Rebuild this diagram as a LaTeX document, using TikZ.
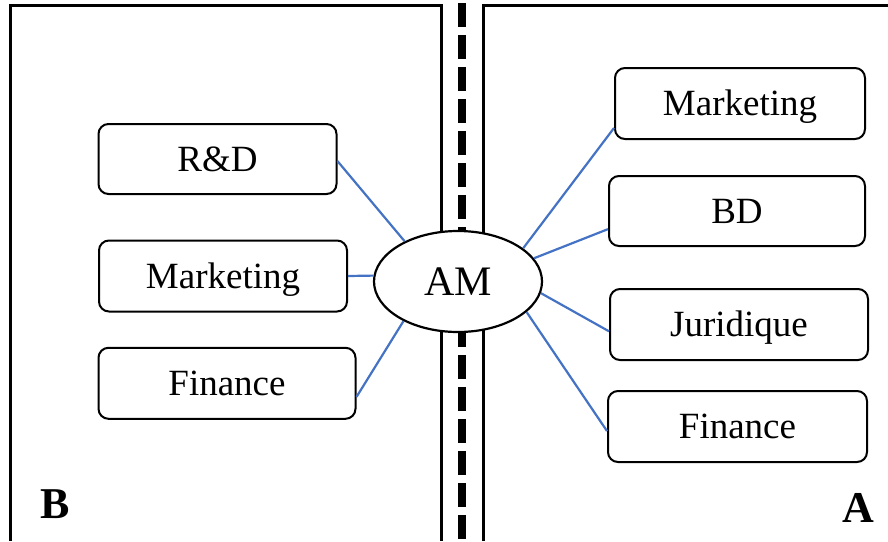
\documentclass[tikz,border=0pt]{standalone}
\usepackage{fontspec}
\setmainfont{Liberation Serif}
\usetikzlibrary{shapes.geometric}
\definecolor{conn}{HTML}{4472C4}
\tikzset{
  box/.style={draw=black, line width=2pt, rounded corners=10pt, fill=white,
    inner sep=0pt, text height=24.5pt, text depth=0pt,
    font=\fontsize{37}{40}\selectfont},
  panel/.style={draw=black, line width=3pt},
  link/.style={draw=conn, line width=2.2pt},
  corner/.style={font=\fontsize{44}{48}\selectfont\bfseries, inner sep=0pt, anchor=base west}
}
\begin{document}
\begin{tikzpicture}[x=1pt,y=-1pt]
\useasboundingbox (0,0) rectangle (888,541);
% panels
\draw[panel] (10.5,541) -- (10.5,5.5) -- (441,5.5) -- (441,541);
\draw[panel] (483.5,541) -- (483.5,5.5) -- (888,5.5);
\draw[line width=8pt, dash pattern=on 24pt off 8pt] (462,3) -- (462,541);
% left boxes
\node[box, minimum width=238pt, minimum height=70pt] (rd) at (217.5,159) {R\&D};
\node[box, minimum width=248pt, minimum height=71pt] (mkl) at (223,276) {Marketing};
\node[box, minimum width=257pt, minimum height=71pt] (fnl) at (227,383.3) {Finance};
% right boxes
\node[box, minimum width=250pt, minimum height=71pt] (mkr) at (740,103.5) {Marketing};
\node[box, minimum width=256pt, minimum height=70pt] (bd) at (737,211) {BD};
\node[box, minimum width=258pt, minimum height=71pt] (jur) at (739,324.5) {Juridique};
\node[box, minimum width=259pt, minimum height=71pt] (fnr) at (737.5,426.5) {Finance};
% center ellipse
\node[ellipse, draw=black, line width=2.2pt, fill=white, minimum width=168pt, minimum height=101pt,
  inner sep=0pt, text height=28pt, text depth=0pt, font=\fontsize{42}{46}\selectfont] (am) at (458,281.5) {AM};
% connectors
\draw[link] (rd.-1.9) -- (am.143.6);
\draw[link] (mkl.east) -- (am.176.5);
\draw[link] (fnl.-6.5) -- (am.216.4);
\draw[link] (mkr.191) -- (am.27);
\draw[link] (bd.188) -- (am.17);
\draw[link] (jur.183.7) -- (am.-8);
\draw[link] (fnr.182.4) -- (am.-24);
% corner letters
\node[corner] (lb) at (40,518) {B};
\node[corner] (la) at (842,522) {A};
\end{tikzpicture}
\end{document}
